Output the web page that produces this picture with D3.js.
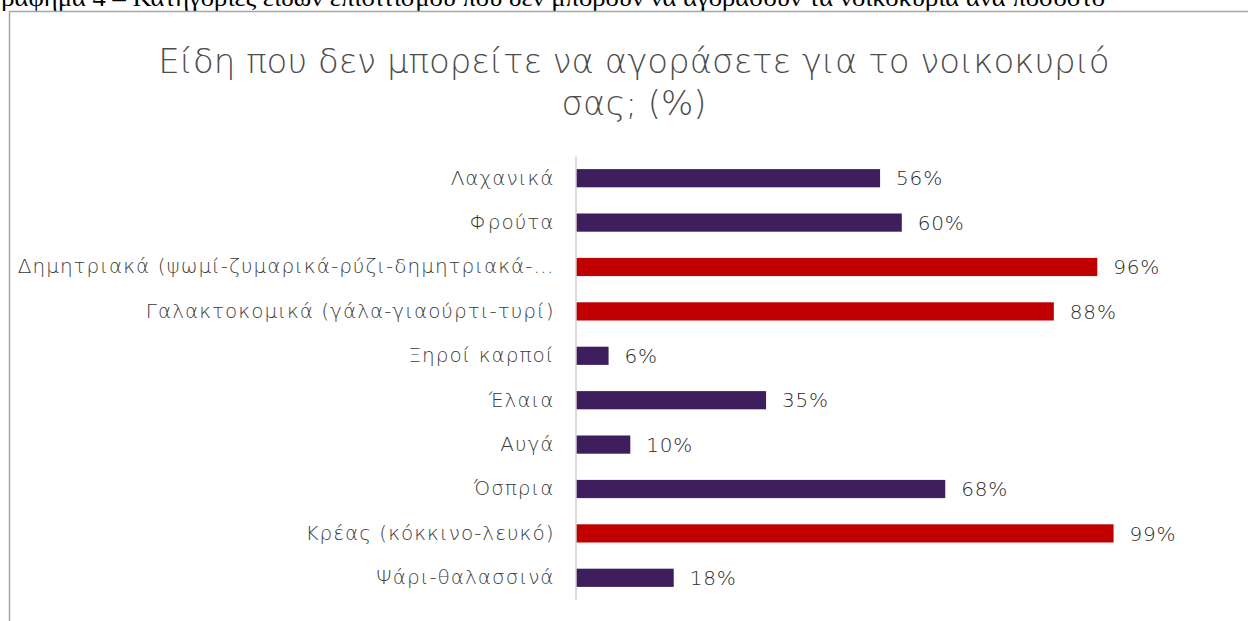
<!DOCTYPE html>
<html>
<head>
<meta charset="utf-8">
<script src="https://cdn.jsdelivr.net/npm/d3@7"></script>
<style>
  body { margin: 0; background: #fff; }
  svg { display: block; }
</style>
</head>
<body>
<svg id="chart" width="1248" height="621"></svg>
<script>
const categories = [
  "Λαχανικά",
  "Φρούτα",
  "Δημητριακά (ψωμί-ζυμαρικά-ρύζι-δημητριακά-…",
  "Γαλακτοκομικά (γάλα-γιαούρτι-τυρί)",
  "Ξηροί καρποί",
  "Έλαια",
  "Αυγά",
  "Όσπρια",
  "Κρέας (κόκκινο-λευκό)",
  "Ψάρι-θαλασσινά"
];
const values = [56, 60, 96, 88, 6, 35, 10, 68, 99, 18];
const highlighted = [false, false, true, true, false, false, false, false, true, false];
const titleLines = ["Είδη που δεν μπορείτε να αγοράσετε για το νοικοκυριό", "σας; (%)"];
const caption = "Γράφημα 4 – Κατηγορίες ειδών επισιτισμού που δεν μπορούν να αγοράσουν τα νοικοκυριά ανά ποσοστό";

const svg = d3.select("#chart");
const W = 1248, H = 621;
const chartFont = "'DejaVu Sans', 'Noto Sans', sans-serif";

// clipped caption at top (cut off in the source image)
svg.append("text")
  .attr("x", -14).attr("y", 6)
  .attr("font-family", "'Liberation Serif', 'DejaVu Serif', serif")
  .attr("font-size", 24)
  .attr("fill", "#000")
  .attr("textLength", 1119)
  .attr("lengthAdjust", "spacingAndGlyphs")
  .text(caption);

// frame
svg.append("path")
  .attr("d", `M9.5,${H} L9.5,11.5 L${W},11.5`)
  .attr("fill", "none").attr("stroke", "#a6a6a6").attr("stroke-width", 1.5);

// title
svg.append("g").selectAll("text").data(titleLines).join("text")
  .attr("x", 634).attr("y", (d, i) => 73 + i * 42)
  .attr("text-anchor", "middle")
  .attr("font-family", chartFont)
  .attr("font-size", 34)
  .attr("font-weight", 300)
  .attr("fill", "#4d4d4d")
  .text(d => d);

const x = d3.scaleLinear().domain([0, 100]).range([576, 1119]);
const y = d3.scaleBand().domain(categories).range([156, 600]).paddingInner(0.59).paddingOuter(0.295);

svg.append("g").selectAll("rect").data(values).join("rect")
  .attr("x", x(0))
  .attr("y", (d, i) => y(categories[i]))
  .attr("width", d => x(d) - x(0))
  .attr("height", y.bandwidth())
  .attr("fill", (d, i) => highlighted[i] ? "#C00000" : "#3F1E5E");

// axis
const yAxis = svg.append("g").attr("transform", `translate(${x(0) - 0.5},0)`)
  .call(d3.axisLeft(y).tickSize(0).tickPadding(21));
yAxis.select(".domain").attr("stroke", "#d0d0d0").attr("stroke-width", 1.5);
yAxis.selectAll("text")
  .attr("font-family", chartFont)
  .attr("font-size", 20)
  .attr("font-weight", 300)
  .attr("letter-spacing", "1px")
  .attr("fill", "#3a3a3a");

// value labels
svg.append("g").selectAll("text").data(values).join("text")
  .attr("x", d => x(d) + 16)
  .attr("y", (d, i) => y(categories[i]) + y.bandwidth() / 2)
  .attr("dy", "0.36em")
  .attr("font-family", chartFont)
  .attr("font-size", 20)
  .attr("font-weight", 300)
  .attr("letter-spacing", "0.8px")
  .attr("fill", "#2a2a2a")
  .text(d => d + "%");
</script>
</body>
</html>
